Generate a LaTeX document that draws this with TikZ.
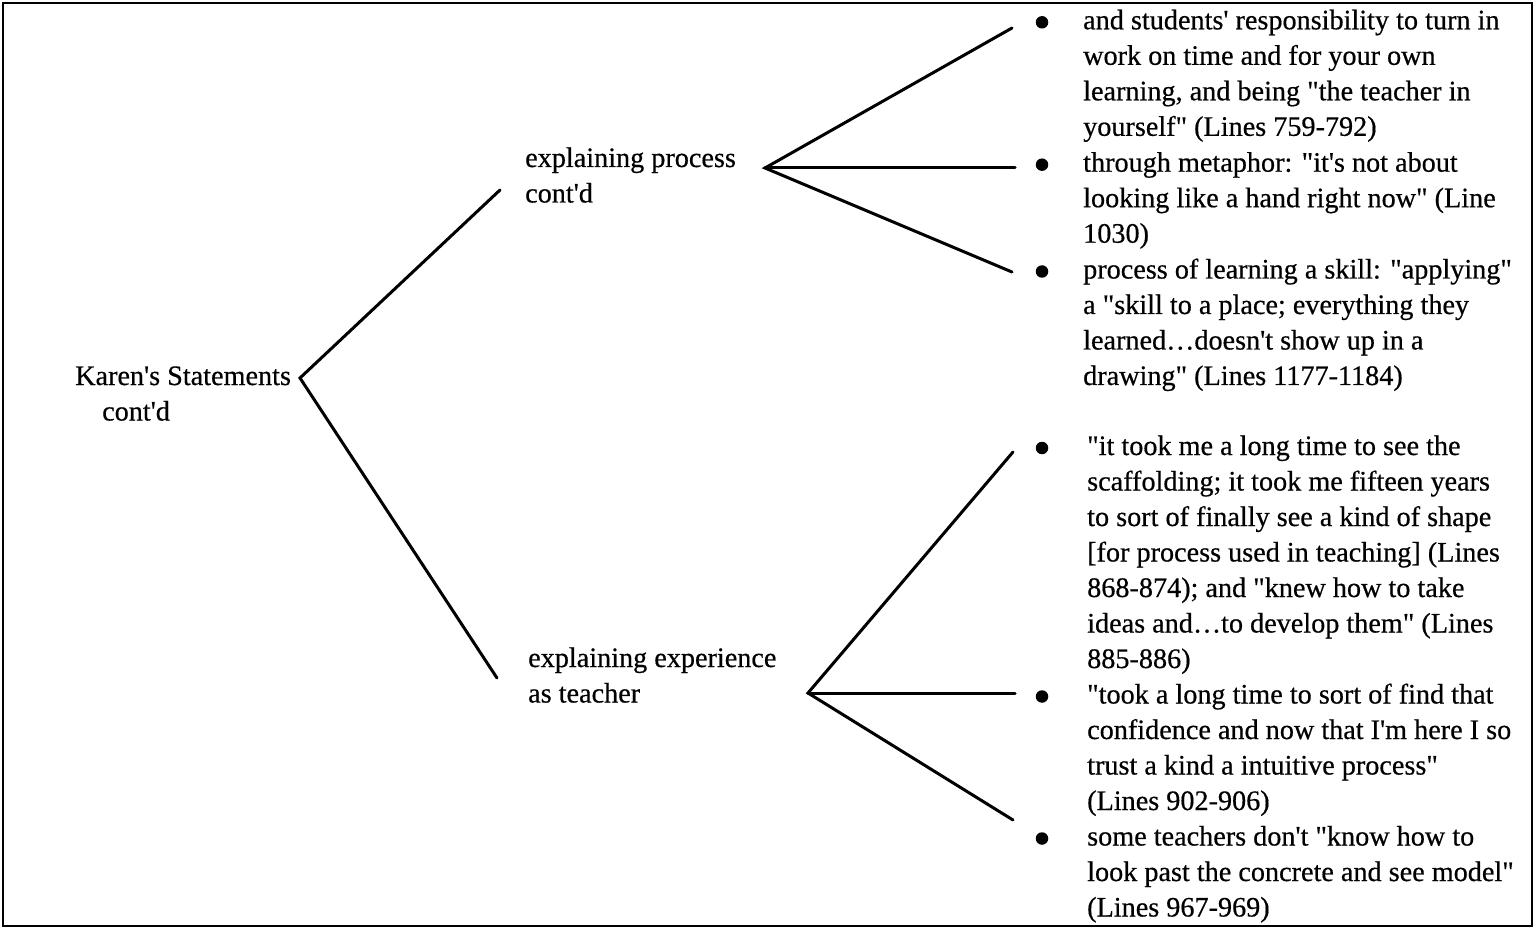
\documentclass[tikz,border=0pt]{standalone}
\usepackage{fontspec}
\setmainfont{Liberation Serif}[Ligatures=TeXOff, FakeBold=0.5]
\newcommand{\lines}[1]{\begin{tabular}[t]{@{}l@{}}#1\end{tabular}}
\begin{document}
\begin{tikzpicture}[x=1pt,y=-1pt,
  txt/.style={inner sep=0pt, anchor=base west, font=\fontsize{28.2}{35.5}\selectfont},
  bul/.style={circle, fill=black, inner sep=0pt, minimum size=12.5pt},
  branch/.style={line width=3pt, line join=miter, line cap=round},
  frame/.style={line width=2.6pt}]
\useasboundingbox (0,0) rectangle (1535,928);
\draw[frame] (3,3) rectangle (1532,926);

% left-hand labels
\node[txt] (root) at (75,385) {\lines{Karen's Statements\\\hspace*{27pt}cont'd}};
\node[txt] (proc) at (525,167) {\lines{explaining process\\cont'd}};
\node[txt] (expr) at (528,667) {\lines{explaining experience\\as teacher}};

% bulleted statements: explaining process
\node[txt] (p1) at (1083,29.3) {\lines{and students' responsibility to turn in\\work on time and for your own\\learning, and being "the teacher in\\yourself" (Lines 759-792)}};
\node[txt] (p2) at (1083,171.7) {\lines{through metaphor: "it's not about\\looking like a hand right now" (Line\\1030)}};
\node[txt] (p3) at (1083,278.5) {\lines{process of learning a skill: "applying"\\a "skill to a place; everything they\\learned…doesn't show up in a\\drawing" (Lines 1177-1184)}};

% bulleted statements: explaining experience
\node[txt] (e1) at (1087,455) {\lines{"it took me a long time to see the\\scaffolding; it took me fifteen years\\to sort of finally see a kind of shape\\\relax [for process used in teaching] (Lines\\868-874); and "knew how to take\\ideas and…to develop them" (Lines\\885-886)}};
\node[txt] (e2) at (1087,703.5) {\lines{"took a long time to sort of find that\\confidence and now that I'm here I so\\trust a kind a intuitive process"\\(Lines 902-906)}};
\node[txt] (e3) at (1087,845.5) {\lines{some teachers don't "know how to\\look past the concrete and see model"\\(Lines 967-969)}};

% bullets, centred on the x-height of each first line
\node[bul] (bp1) at ([xshift=-41pt,yshift=7pt]p1.base west) {};
\node[bul] (bp2) at ([xshift=-41pt,yshift=7pt]p2.base west) {};
\node[bul] (bp3) at ([xshift=-41pt,yshift=7pt]p3.base west) {};
\node[bul] (be1) at ([xshift=-45pt,yshift=7pt]e1.base west) {};
\node[bul] (be2) at ([xshift=-45pt,yshift=7pt]e2.base west) {};
\node[bul] (be3) at ([xshift=-45pt,yshift=7pt]e3.base west) {};

% branch points and line ends
\coordinate (rv) at (300,378);
\coordinate (pin) at (500,190);
\coordinate (ein) at (497,678);
\coordinate (pv) at (765,168);
\coordinate (po1) at (1012,28);
\coordinate (po2) at (1015,168);
\coordinate (po3) at (1012,272);
\coordinate (ev) at (808,693);
\coordinate (eo1) at (1013,452);
\coordinate (eo2) at (1015,693);
\coordinate (eo3) at (1013,820);

\draw[branch] (pin) -- (rv) -- (ein);
\draw[branch] (po1) -- (pv) -- (po3);
\draw[branch] (pv) -- (po2);
\draw[branch] (eo1) -- (ev) -- (eo3);
\draw[branch] (ev) -- (eo2);
\end{tikzpicture}
\end{document}
